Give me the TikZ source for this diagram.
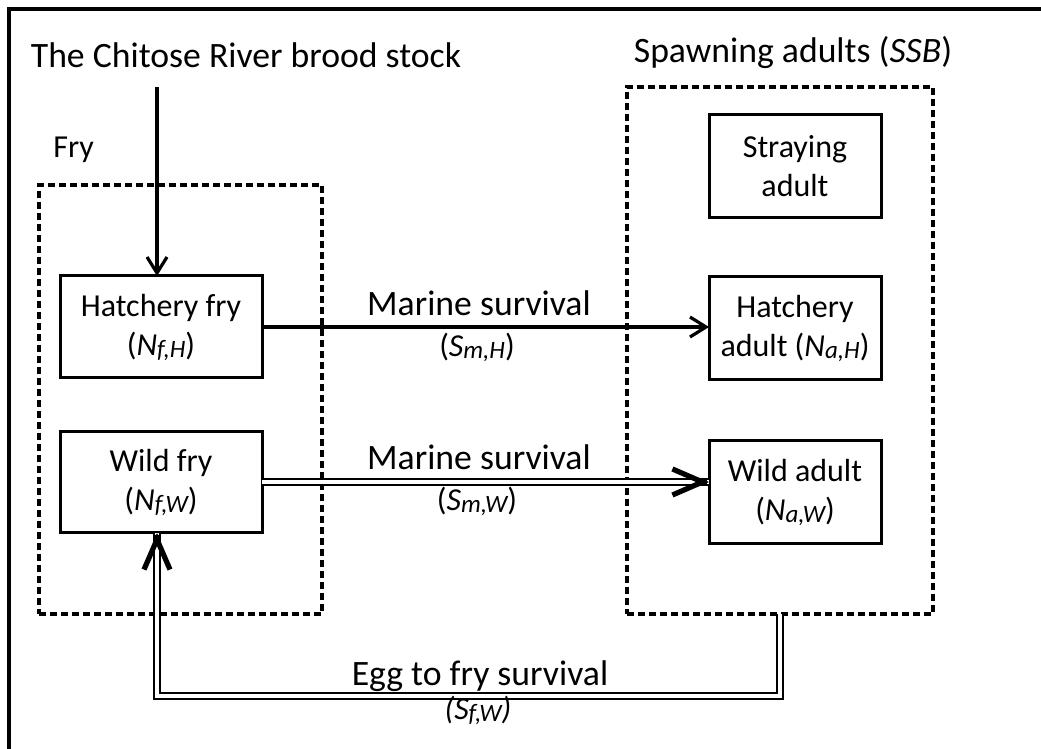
\documentclass[tikz,border=0pt]{standalone}
\usepackage{fontspec}
\setmainfont{Carlito}
\usetikzlibrary{arrows.meta,calc}
\newcommand\bigfont{\fontsize{17.85pt}{21pt}\selectfont}
\newcommand\boxfont{\fontsize{16pt}{19.5pt}\selectfont}
\newcommand\sbs[1]{\raisebox{-1pt}{\fontsize{12.5pt}{14pt}\selectfont\itshape #1}}
\tikzset{
  box/.style={draw, line width=1.5pt, inner sep=0pt, outer sep=0pt, align=center, font=\boxfont},
  grp/.style={draw, line width=1.6pt, dash pattern=on 3.5pt off 2pt, inner sep=0pt, outer sep=0pt},
  lbl/.style={inner sep=0pt, anchor=base},
  arr/.style={line width=1.6pt, -{Straight Barb[length=8pt,width=10pt]}},
  dbl/.style={double, line width=1pt, double distance=1.8pt},
  bigtip/.style={line width=2.6pt, -{Straight Barb[length=15pt,width=13pt]}},
  frame/.style={line width=1.6pt}
}
\begin{document}
\begin{tikzpicture}[x=0.5pt,y=-0.5pt]
\useasboundingbox (0,0) rectangle (1041,749);
\draw[frame] (1041,9) -- (9,9) -- (9,749);

% group boxes
\node[grp, minimum width=141.5pt, minimum height=214.5pt] (frygrp) at (180.5,399.5) {};
\node[grp, minimum width=153pt, minimum height=263.5pt] (spgrp) at (780,350.5) {};

% labels
\node[lbl, font=\bigfont] (title) at (246,68) {The Chitose River brood stock};
\node[lbl, anchor=base west, font=\boxfont] (frylbl) at (53,158) {Fry};
\node[lbl, font=\bigfont] (ssb) at (793,63) {Spawning adults (\textit{SSB})};

% boxes
\node[box, minimum width=101pt, minimum height=51pt] (hf) at (161,327) {Hatchery fry\\(\textit{N}\sbs{f,H})};
\node[box, minimum width=101pt, minimum height=50pt] (wf) at (161,482) {Wild fry\\(\textit{N}\sbs{f,W})};
\node[box, minimum width=86pt, minimum height=51.5pt] (sa) at (795,166.5) {Straying\\adult};
\node[box, minimum width=86pt, minimum height=51.5pt] (ha) at (795,328.5) {Hatchery\\adult (\textit{N}\sbs{a,H})};
\node[box, minimum width=86pt, minimum height=51pt] (wa) at (795,492) {Wild adult\\(\textit{N}\sbs{a,W})};

% brood stock arrow
\coordinate (bs) at (157,87);
\draw[arr] (bs) -- (bs |- hf.north);

% hatchery marine survival
\coordinate (htip) at (hf.east -| ha.west);
\draw[arr] (hf.east) -- (htip);
\node[lbl, font=\bigfont] (m1) at (479,315) {Marine survival};
\node[lbl, font=\boxfont] (s1) at (477,357) {(\textit{S}\sbs{m,H})};

% wild marine survival
\coordinate (wtip) at (wf.east -| wa.west);
\draw[dbl] (wf.east) -- (wtip);
\draw[bigtip] ([xshift=-1pt]wtip) -- (wtip);
\node[lbl, font=\bigfont] (m2) at (479,470) {Marine survival};
\node[lbl, font=\boxfont] (s2) at (477,510) {(\textit{S}\sbs{m,W})};

% egg to fry survival
\coordinate (etip) at (157,533);
\draw[dbl] (spgrp.south) -- ++(0,82) -| (etip);
\draw[bigtip] ([yshift=-1pt]etip) -- (etip);
\node[lbl, font=\bigfont] (e1) at (480,685) {Egg to fry survival};
\node[lbl, font=\boxfont] (e2) at (478,719) {\textit{(S\sbs{f,W})}};
\end{tikzpicture}
\end{document}
